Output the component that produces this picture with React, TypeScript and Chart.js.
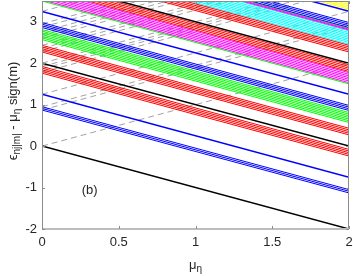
import React, { useEffect, useRef } from "react";
import { Chart, registerables } from "chart.js";
Chart.register(...registerables);

// x range of every level line (mu_eta)
const muRange = [0, 2];
// slopes
const solidSlope = -1;
const dashedSlope = 1;

const xTicks = [0, 0.5, 1, 1.5, 2];
const yTicks = [-2, -1, 0, 1, 2, 3];

// level values at mu_eta = 0 (solid lines)
const blackLevels = [0, 2, 4];
const blueSingleLevels = [1.25, 3.25, 5.25];
const blueGroupLevels = [0.87, 0.91, 0.95, 2.86, 2.9, 2.94, 2.98, 4.86, 4.9, 4.94, 4.98];
const redLevels = [1.76, 1.8, 1.84, 1.88, 1.92, 2.27, 2.31, 2.35, 2.39, 2.43, 3.8, 3.84, 3.88, 3.92, 3.96, 4.27, 4.31, 4.35, 4.39, 4.43];
const greenLevels = [2.57, 2.61, 2.65, 2.69, 2.73, 2.77, 2.81, 3.5, 4.84, 5.5];
const magentaLevels = [3.53, 3.57, 3.61, 3.65, 3.69, 3.73, 3.77, 4.8, 4.82];
const cyanLevels = [4.46, 4.5, 4.54, 4.58, 4.62, 4.66, 4.7, 4.74, 4.78];
const yellowLevels = [5.3, 5.34, 5.38, 5.42, 5.46, 5.5, 5.54, 5.58];
// dashed lines (other branch), values at mu_eta = 0
const dashedLevels = [0, 0.87, 0.95, 1.25, 1.78, 1.86, 1.92, 2, 2.28, 2.36, 2.43, 2.6, 2.68, 2.76, 2.87, 2.95, 3.25];

const panelLabel = { text: "(b)", x: 0.31, y: -1.08 };

const FONT = "'Liberation Sans', Arial, Helvetica, sans-serif";
const TXT = "#262626";

function lineData(c: number, slope: number) {
  return muRange.map((m) => ({ x: m, y: c + slope * m }));
}

function mk(levels: number[], color: string, width: number, slope: number, dash: number[] = []) {
  return levels.map((c) => ({
    data: lineData(c, slope),
    borderColor: color,
    backgroundColor: color,
    borderWidth: width,
    borderDash: dash,
    showLine: true,
    pointRadius: 0,
    fill: false,
    tension: 0,
  }));
}

const decor = {
  id: "decor",
  afterDraw(chart: any) {
    const { ctx, chartArea: a, scales } = chart;
    const xs = scales.x;
    const ys = scales.y;
    ctx.save();
    // box
    ctx.strokeStyle = "#8c8c8c";
    ctx.lineWidth = 1;
    ctx.beginPath();
    ctx.moveTo(a.left + 0.5, a.top + 0.5);
    ctx.lineTo(a.right - 0.5, a.top + 0.5);
    ctx.lineTo(a.right - 0.5, a.bottom);
    ctx.moveTo(a.left + 0.5, a.top + 0.5);
    ctx.lineTo(a.left + 0.5, a.bottom);
    ctx.stroke();
    ctx.strokeStyle = "#bdbdbd";
    ctx.lineWidth = 2;
    ctx.beginPath();
    ctx.moveTo(a.left, a.bottom);
    ctx.lineTo(a.right, a.bottom);
    ctx.stroke();
    // inward ticks
    ctx.strokeStyle = "#8c8c8c";
    ctx.lineWidth = 1;
    ctx.beginPath();
    xTicks.forEach((v) => {
      const px = Math.round(xs.getPixelForValue(v)) + 0.5;
      ctx.moveTo(px, a.bottom);
      ctx.lineTo(px, a.bottom - 3);
      ctx.moveTo(px, a.top);
      ctx.lineTo(px, a.top + 3);
    });
    yTicks.forEach((v) => {
      const py = Math.round(ys.getPixelForValue(v)) + 0.5;
      ctx.moveTo(a.left, py);
      ctx.lineTo(a.left + 3, py);
      ctx.moveTo(a.right, py);
      ctx.lineTo(a.right - 3, py);
    });
    ctx.stroke();

    ctx.fillStyle = TXT;
    ctx.textBaseline = "alphabetic";
    ctx.textAlign = "left";
    const main = `13px ${FONT}`;
    const sub = `10px ${FONT}`;
    const drawPieces = (pieces: { t: string; s: boolean }[]) => {
      let w = 0;
      pieces.forEach((p) => {
        ctx.font = p.s ? sub : main;
        w += ctx.measureText(p.t).width;
      });
      let x = -w / 2;
      pieces.forEach((p) => {
        ctx.font = p.s ? sub : main;
        ctx.fillText(p.t, x, p.s ? 3 : 0);
        x += ctx.measureText(p.t).width;
      });
    };
    // y title
    ctx.save();
    ctx.translate(17, (a.top + a.bottom) / 2 - 4);
    ctx.rotate(-Math.PI / 2);
    drawPieces([
      { t: "\u03f5", s: false },
      { t: "nj|m|", s: true },
      { t: " - \u03bc", s: false },
      { t: "\u03b7", s: true },
      { t: " sign(m)", s: false },
    ]);
    ctx.restore();
    // x title
    ctx.save();
    ctx.translate((a.left + a.right) / 2, 269);
    drawPieces([
      { t: "\u03bc", s: false },
      { t: "\u03b7", s: true },
    ]);
    ctx.restore();
    // panel label
    ctx.font = main;
    ctx.textAlign = "center";
    ctx.textBaseline = "middle";
    ctx.fillText(panelLabel.text, xs.getPixelForValue(panelLabel.x), ys.getPixelForValue(panelLabel.y));
    ctx.restore();
  },
};

export default function App() {
  const ref = useRef<HTMLCanvasElement | null>(null);
  useEffect(() => {
    if (!ref.current) return;
    const datasets = [
      ...mk(blackLevels, "#000000", 1.5, solidSlope),
      ...mk(blueSingleLevels, "#0000ff", 1.5, solidSlope),
      ...mk(blueGroupLevels, "#0000ff", 1, solidSlope),
      ...mk(redLevels, "#ff0000", 1, solidSlope),
      ...mk(magentaLevels, "#ff00ff", 1, solidSlope),
      ...mk(cyanLevels, "#00ffff", 1, solidSlope),
      ...mk(yellowLevels, "#ffff00", 1, solidSlope),
      ...mk(greenLevels, "#00ff00", 1, solidSlope),
      ...mk(dashedLevels, "#8a8a8a", 0.8, dashedSlope, [6, 4]),
    ];
    const chart = new Chart(ref.current, {
      type: "scatter",
      data: { datasets },
      options: {
        animation: false,
        responsive: false,
        devicePixelRatio: 1,
        layout: { padding: { top: 1, right: 4, left: 0, bottom: 0 } },
        plugins: { legend: { display: false }, tooltip: { enabled: false } },
        scales: {
          x: {
            type: "linear",
            min: 0,
            max: 2,
            afterBuildTicks: (s: any) => {
              s.ticks = xTicks.map((v) => ({ value: v }));
            },
            afterFit: (s: any) => {
              s.height = 47;
              s.paddingLeft = 0;
              s.paddingRight = 0;
            },
            grid: { display: false, drawTicks: false },
            border: { display: false },
            ticks: {
              color: TXT,
              font: { family: FONT, size: 13 },
              padding: 6,
              maxRotation: 0,
              autoSkip: false,
              callback: (v: any) => String(v),
            },
          },
          y: {
            type: "linear",
            min: -2,
            max: 3.5,
            afterBuildTicks: (s: any) => {
              s.ticks = yTicks.map((v) => ({ value: v }));
            },
            afterFit: (s: any) => {
              s.width = 42;
              s.paddingTop = 0;
              s.paddingBottom = 0;
            },
            grid: { display: false, drawTicks: false },
            border: { display: false },
            ticks: {
              color: TXT,
              font: { family: FONT, size: 13 },
              padding: 5,
              autoSkip: false,
              callback: (v: any) => String(v),
            },
          },
        },
      },
      plugins: [decor],
    } as any);
    return () => chart.destroy();
  }, []);
  return (
    <div style={{ position: "absolute", left: 0, top: 0, width: 353, height: 276, background: "#fff" }}>
      <canvas ref={ref} width={353} height={276} style={{ display: "block" }} />
    </div>
  );
}
